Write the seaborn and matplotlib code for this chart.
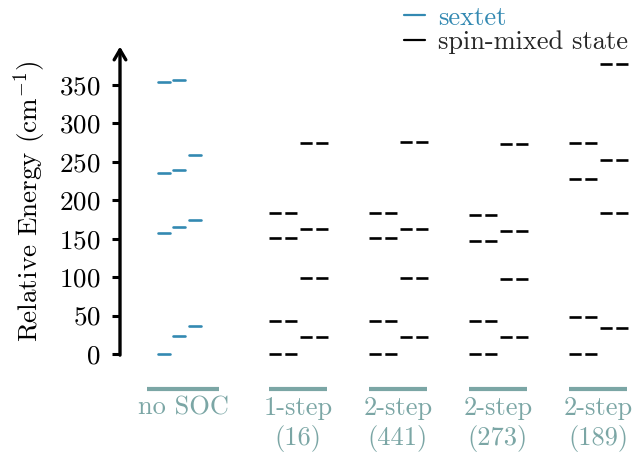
import numpy as np
import pandas as pd
import matplotlib
matplotlib.use("Agg")
import matplotlib.pyplot as plt
from matplotlib.lines import Line2D
import seaborn as sns

# ---- data (cm^-1) ----
group_labels = ["no SOC", "1-step\n(16)", "2-step\n(441)", "2-step\n(273)", "2-step\n(189)"]

sextet_col1 = [0, 158, 235, 354]
sextet_col2 = [24, 165, 239, 356]
sextet_col3 = [37, 174, 259]

step1_left = [0, 42.5, 151, 184]
step1_right = [22.5, 99.5, 163, 275]
step2_441_left = [0, 42.5, 151, 184]
step2_441_right = [22.5, 99.5, 163, 276]
step2_273_left = [0, 42.5, 147.5, 181]
step2_273_right = [22.5, 97.5, 160, 273]
step2_189_left = [0, 47.5, 228, 275]
step2_189_right = [33.5, 183.5, 252, 377]

# ---- layout ----
group_pos = [0.0, 1.15, 2.15, 3.15, 4.15]
sextet_offsets = [-0.19, -0.04, 0.12]
sextet_width = 0.12
mixed_offsets = [-0.15, 0.16]
mixed_width = 0.28

SEXTET = "#3389b2"
TEAL = "#7ba6a5"

sns.set_theme(style="white")
plt.rcParams["font.family"] = ["cmr10", "DejaVu Serif"]
plt.rcParams["mathtext.fontset"] = "cm"
plt.rcParams["axes.formatter.use_mathtext"] = True

rows = []
uid = 0
for off, col in zip(sextet_offsets, [sextet_col1, sextet_col2, sextet_col3]):
    for e in col:
        c = group_pos[0] + off
        rows.append((c - sextet_width / 2, e, uid, "sextet"))
        rows.append((c + sextet_width / 2, e, uid, "sextet"))
        uid += 1
mixed_sets = [(step1_left, step1_right), (step2_441_left, step2_441_right),
              (step2_273_left, step2_273_right), (step2_189_left, step2_189_right)]
for gi, (lcol, rcol) in enumerate(mixed_sets, start=1):
    for off, col in zip(mixed_offsets, [lcol, rcol]):
        for e in col:
            c = group_pos[gi] + off
            rows.append((c - mixed_width / 2, e, uid, "mixed"))
            rows.append((c + mixed_width / 2, e, uid, "mixed"))
            uid += 1
df = pd.DataFrame(rows, columns=["x", "energy", "level", "kind"])

fig = plt.figure(figsize=(6.44, 4.57), dpi=100)
ax = fig.add_axes([120 / 644, 0.1245, 520 / 644, 0.7737])

sns.lineplot(data=df, x="x", y="energy", units="level", estimator=None, sort=False,
             hue="kind", palette={"sextet": SEXTET, "mixed": "black"},
             style="kind", dashes={"sextet": "", "mixed": (4.6, 1.4)},
             linewidth=1.9, legend=False, ax=ax)

ax.set_xlim(-0.63, 4.57)
ax.set_ylim(-60, 400)

# group baselines and labels
for p, lab, w in zip(group_pos, group_labels, [0.72] + [0.58] * 4):
    ax.hlines(-45.5, p - w / 2, p + w / 2, color=TEAL, lw=3, clip_on=False)
    ax.text(p, -55, lab, ha="center", va="top", color=TEAL, fontsize=19,
            linespacing=1.25, clip_on=False)

for s in ["top", "right", "bottom", "left"]:
    ax.spines[s].set_visible(False)
ax.annotate("", xy=(0, 400), xycoords=("axes fraction", "data"),
            xytext=(0, -1.5), textcoords=("axes fraction", "data"),
            arrowprops=dict(arrowstyle="->,head_width=0.35,head_length=0.6",
                            lw=2.4, color="black", shrinkA=0, shrinkB=0))

ax.set_xticks([])
ax.set_yticks(np.arange(0, 351, 50))
ax.tick_params(axis="y", direction="out", length=6, width=2.2, left=True,
               labelsize=19.5, pad=8, colors="black")
ax.set_xlabel("")
ax.set_ylabel(r"Relative Energy (cm$^{-1}$)", fontsize=19.5, color="black")
ax.yaxis.set_label_coords(-0.138, 0.562)

handles = [Line2D([], [], color=SEXTET, lw=1.6), Line2D([], [], color="black", lw=1.6)]
leg = fig.legend(handles, ["sextet", "spin-mixed state"], loc="upper left",
                 bbox_to_anchor=(404 / 644, 1 - 6 / 457), frameon=False,
                 fontsize=19, handlelength=0.8, handletextpad=0.5,
                 labelspacing=0.02, borderaxespad=0, borderpad=0)
leg.get_texts()[0].set_color(SEXTET)

fig.savefig("out.png", dpi=100)
